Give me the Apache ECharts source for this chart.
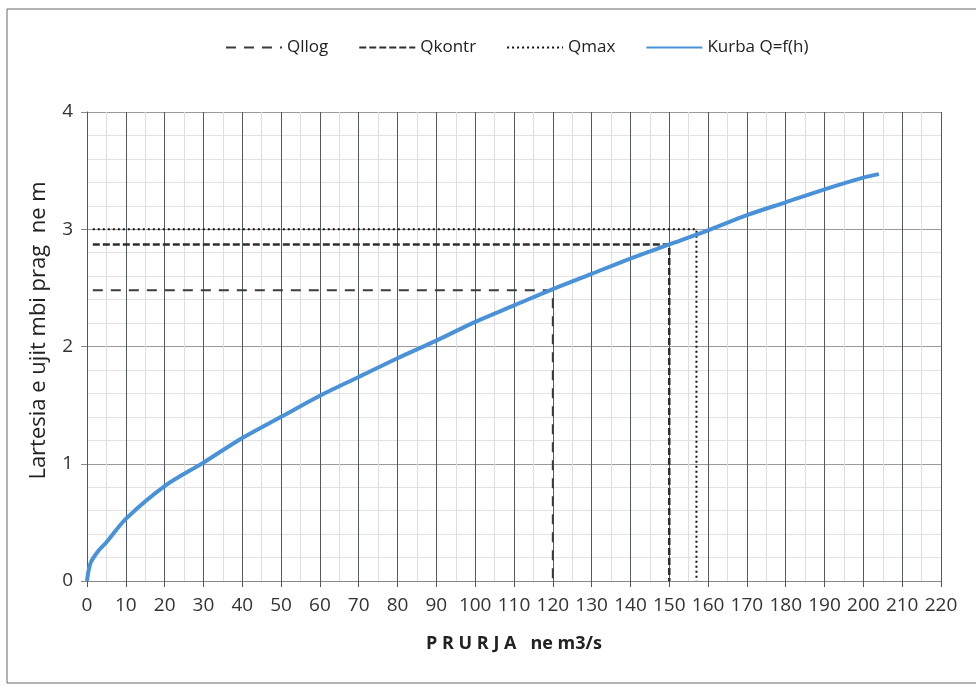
<!DOCTYPE html>
<html>
<head>
<meta charset="utf-8">
<script src="https://cdn.jsdelivr.net/npm/echarts@6/dist/echarts.min.js"></script>
<style>
html,body{margin:0;padding:0;background:#fff;}
#c{width:976px;height:687px;}
</style>
</head>
<body>
<div id="c"></div>
<script>
// Rating curve Q = f(h)
var curveQ = [0, 0.3, 1, 3, 5, 10, 20, 30, 40, 50, 60, 70, 80, 90, 100, 110, 120, 130, 140, 150, 160, 170, 180, 190, 200, 204];
var curveH = [0, 0.07, 0.16, 0.26, 0.33, 0.53, 0.81, 1.01, 1.22, 1.40, 1.58, 1.74, 1.90, 2.05, 2.21, 2.35, 2.49, 2.62, 2.75, 2.87, 2.99, 3.12, 3.23, 3.34, 3.44, 3.47];

// Reference lines: [Q start, Q value, h value]
var qllogQ = [1.5, 120, 120];
var qllogH = [2.48, 2.48, 0];
var qkontrQ = [1.5, 150, 150];
var qkontrH = [2.87, 2.87, 0];
var qmaxQ = [1.5, 157, 157];
var qmaxH = [3.0, 3.0, 0];

var xTicks = {min: 0, max: 220, interval: 10};
var yTicks = {min: 0, max: 4, interval: 1};

function pairs(xs, ys) {
  return xs.map(function (x, i) { return [x, ys[i]]; });
}

var chart = echarts.init(document.getElementById('c'), null, {renderer: 'canvas'});
var font = '"Open Sans", "Noto Sans", sans-serif';

chart.setOption({
  backgroundColor: '#ffffff',
  animation: false,
  textStyle: {fontFamily: font},
  graphic: [{
    type: 'rect',
    shape: {x: 7, y: 9, width: 1000, height: 674},
    style: {fill: 'none', stroke: '#666', lineWidth: 1}
  }],
  legend: {
    top: 34,
    left: 220,
    itemWidth: 56,
    itemHeight: 12,
    itemGap: 30,
    itemStyle: {opacity: 0},
    textStyle: {fontSize: 17, color: '#222', fontFamily: font},
    data: ['Qllog', 'Qkontr', 'Qmax', 'Kurba Q=f(h)']
  },
  grid: {left: 87, right: 35, top: 112, bottom: 106, containLabel: false},
  xAxis: {
    type: 'value',
    min: xTicks.min, max: xTicks.max, interval: xTicks.interval,
    name: 'P R U R J A   ne m3/s',
    nameLocation: 'middle',
    nameGap: 54,
    nameTextStyle: {fontSize: 18, fontWeight: 'bold', color: '#222', fontFamily: font},
    axisLine: {show: true, lineStyle: {color: '#888', width: 1}},
    axisTick: {show: true, length: 6, inside: false, lineStyle: {color: '#555'}},
    axisLabel: {fontSize: 19, color: '#333', margin: 15, fontFamily: font},
    splitLine: {show: true, lineStyle: {color: '#4f5a64', width: 1}},
    minorTick: {show: false, splitNumber: 2},
    minorSplitLine: {show: true, lineStyle: {color: '#dedede', width: 1}}
  },
  yAxis: {
    type: 'value',
    min: yTicks.min, max: yTicks.max, interval: yTicks.interval,
    name: 'Lartesia e ujit mbi prag  ne m',
    nameLocation: 'middle',
    nameGap: 37,
    nameTextStyle: {fontSize: 22, color: '#222', fontFamily: font, padding: [0, 0, 0, 32]},
    axisLine: {show: true, lineStyle: {color: '#4f5a64', width: 1}},
    axisTick: {show: true, length: 6, lineStyle: {color: '#888'}},
    axisLabel: {fontSize: 19, color: '#333', margin: 14, fontFamily: font},
    splitLine: {show: true, lineStyle: {color: '#9a9a9a', width: 1}},
    minorTick: {show: false, splitNumber: 5},
    minorSplitLine: {show: true, lineStyle: {color: '#e2e2e2', width: 1}}
  },
  series: [
    {
      name: 'Qllog', type: 'line', symbol: 'none', z: 3,
      data: pairs(qllogQ, qllogH),
      lineStyle: {color: '#3c3c3c', width: 2, type: [10, 8]},
      itemStyle: {color: '#3c3c3c'}
    },
    {
      name: 'Qkontr', type: 'line', symbol: 'none', z: 3,
      data: pairs(qkontrQ, qkontrH),
      lineStyle: {color: '#2e2e2e', width: 2.5, type: [7, 3]},
      itemStyle: {color: '#2e2e2e'}
    },
    {
      name: 'Qmax', type: 'line', symbol: 'none', z: 3,
      data: pairs(qmaxQ, qmaxH),
      lineStyle: {color: '#111', width: 2, type: [2, 3]},
      itemStyle: {color: '#111'}
    },
    {
      name: 'Kurba Q=f(h)', type: 'line', symbol: 'none', smooth: 0.3, z: 4,
      data: pairs(curveQ, curveH),
      lineStyle: {color: '#4a92d8', width: 4},
      itemStyle: {color: '#4a92d8'}
    }
  ]
});
</script>
</body>
</html>
